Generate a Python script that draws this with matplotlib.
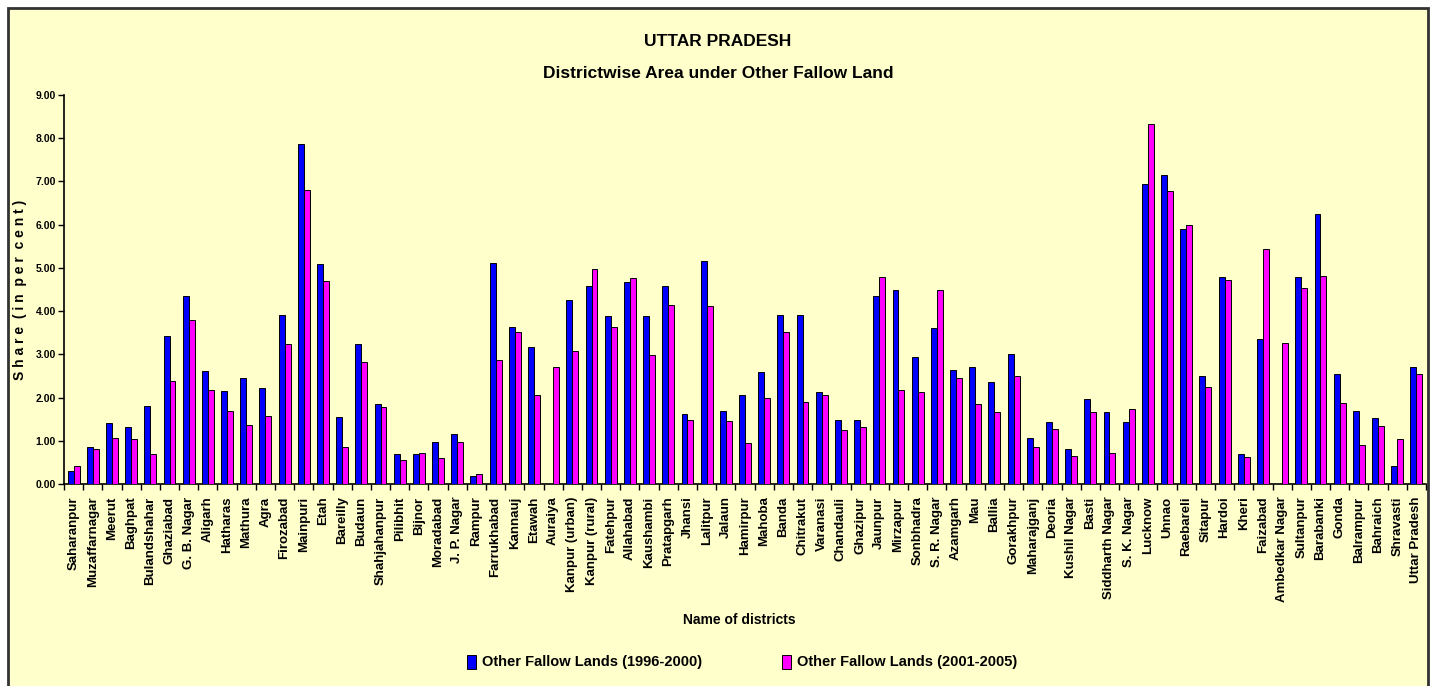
import matplotlib
matplotlib.use('Agg')
import matplotlib.pyplot as plt
import numpy as np
from matplotlib.patches import Rectangle

plt.rcParams['font.family'] = ['Liberation Sans', 'DejaVu Sans']
plt.rcParams['font.weight'] = 'bold'

districts = ['Saharanpur', 'Muzaffarnagar', 'Meerut', 'Baghpat', 'Bulandshahar', 'Ghaziabad',
             'G. B. Nagar', 'Aligarh', 'Hatharas', 'Mathura', 'Agra', 'Firozabad', 'Mainpuri',
             'Etah', 'Bareilly', 'Budaun', 'Shahjahanpur', 'Pilibhit', 'Bijnor', 'Moradabad',
             'J. P. Nagar', 'Rampur', 'Farrukhabad', 'Kannauj', 'Etawah', 'Auraiya',
             'Kanpur (urban)', 'Kanpur (rural)', 'Fatehpur', 'Allahabad', 'Kaushambi',
             'Pratapgarh', 'Jhansi', 'Lalitpur', 'Jalaun', 'Hamirpur', 'Mahoba', 'Banda',
             'Chitrakut', 'Varanasi', 'Chandauli', 'Ghazipur', 'Jaunpur', 'Mirzapur',
             'Sonbhadra', 'S. R. Nagar', 'Azamgarh', 'Mau', 'Ballia', 'Gorakhpur',
             'Maharajganj', 'Deoria', 'Kushil Nagar', 'Basti', 'Siddharth Nagar',
             'S. K. Nagar', 'Lucknow', 'Unnao', 'Raebareli', 'Sitapur', 'Hardoi', 'Kheri',
             'Faizabad', 'Ambedkar Nagar', 'Sultanpur', 'Barabanki', 'Gonda', 'Balrampur',
             'Bahraich', 'Shravasti', 'Uttar Pradesh']

fallow_1996_2000 = [0.31, 0.85, 1.40, 1.31, 1.80, 3.42, 4.35, 2.61, 2.15, 2.46, 2.21, 3.91, 7.86,
                    5.10, 1.56, 3.24, 1.84, 0.69, 0.69, 0.97, 1.16, 0.19, 5.12, 3.64, 3.17, 0.00,
                    4.25, 4.57, 3.88, 4.67, 3.88, 4.57, 1.62, 5.16, 1.68, 2.06, 2.58, 3.91,
                    3.91, 2.12, 1.49, 1.49, 4.35, 4.48, 2.93, 3.61, 2.64, 2.70, 2.36, 3.01,
                    1.06, 1.43, 0.82, 1.96, 1.66, 1.43, 6.93, 7.15, 5.91, 2.49, 4.78, 0.69,
                    3.36, 0.00, 4.78, 6.25, 2.55, 1.68, 1.53, 0.41, 2.70]

fallow_2001_2005 = [0.41, 0.82, 1.06, 1.03, 0.69, 2.39, 3.79, 2.18, 1.68, 1.37, 1.58, 3.24, 6.81,
                    4.69, 0.85, 2.83, 1.77, 0.56, 0.72, 0.59, 0.97, 0.22, 2.86, 3.51, 2.06, 2.70,
                    3.07, 4.97, 3.64, 4.76, 2.98, 4.14, 1.49, 4.11, 1.46, 0.94, 1.99, 3.51,
                    1.90, 2.06, 1.25, 1.31, 4.78, 2.18, 2.12, 4.48, 2.46, 1.84, 1.66, 2.49,
                    0.85, 1.28, 0.65, 1.66, 0.72, 1.74, 8.34, 6.78, 6.00, 2.24, 4.72, 0.62,
                    5.43, 3.27, 4.54, 4.81, 1.87, 0.91, 1.34, 1.03, 2.55]

bg = '#FFFFCC'
fig = plt.figure(figsize=(14.33, 6.86), dpi=100)
fig.patch.set_facecolor('white')
fig.patches.append(Rectangle((8 / 1433, -0.02), 1420 / 1433, 1 - 8 / 686 + 0.02,
                             transform=fig.transFigure, facecolor=bg,
                             edgecolor='#333333', linewidth=2, zorder=-5))

ax = fig.add_axes([64 / 1433, 1 - 484 / 686, (1426 - 64) / 1433, (484 - 95) / 686])
ax.set_zorder(2)
ax.set_facecolor(bg)

x = np.arange(len(districts))
w = 0.31
ax.bar(x - w / 2, fallow_1996_2000, w, color='#0000FF', edgecolor='black', linewidth=0.7,
       label='Other Fallow Lands (1996-2000)', zorder=3)
ax.bar(x + w / 2, fallow_2001_2005, w, color='#FF00FF', edgecolor='black', linewidth=0.7,
       label='Other Fallow Lands (2001-2005)', zorder=3)

ax.set_xlim(-0.5, len(districts) - 0.5)
ax.set_ylim(0, 9)
ax.set_yticks(np.arange(0, 9.5, 1))
ax.set_yticklabels(['%.2f' % v for v in np.arange(0, 9.5, 1)], fontsize=7.5, fontweight='bold')
ax.set_xticks(x)
ax.set_xticklabels(districts, rotation=90, fontsize=9.5, fontweight='bold')
ax.tick_params(axis='x', which='major', length=0, pad=9)
ax.set_xticks(np.arange(-0.5, len(districts), 1), minor=True)
ax.tick_params(axis='x', which='minor', length=4, width=1, direction='out')
ax.tick_params(axis='y', length=4, width=1, direction='out', pad=2)

for s in ['top', 'right']:
    ax.spines[s].set_visible(False)
ax.spines['left'].set_linewidth(1.2)
ax.spines['bottom'].set_linewidth(1.2)

ax.set_ylabel('S h a r e  ( i n  p e r  c e n t )', fontsize=10, fontweight='bold', labelpad=6)
fig.text(0.516, 1 - 620 / 686, 'Name of districts', ha='center', va='center',
         fontsize=10, fontweight='bold')
fig.text(0.501, 1 - 42 / 686, 'UTTAR PRADESH', ha='center', va='center',
         fontsize=12.5, fontweight='bold')
fig.text(0.501, 1 - 74 / 686, 'Districtwise Area under Other Fallow Land', ha='center',
         va='center', fontsize=12.5, fontweight='bold')

fig.legend(loc='center', bbox_to_anchor=(0.518, 1 - 662 / 686), ncol=2, frameon=False,
           fontsize=10.5, handlelength=0.6, handleheight=1.1, handletextpad=0.4,
           columnspacing=5.5)

fig.savefig('out.png', dpi=100, facecolor=fig.get_facecolor())
